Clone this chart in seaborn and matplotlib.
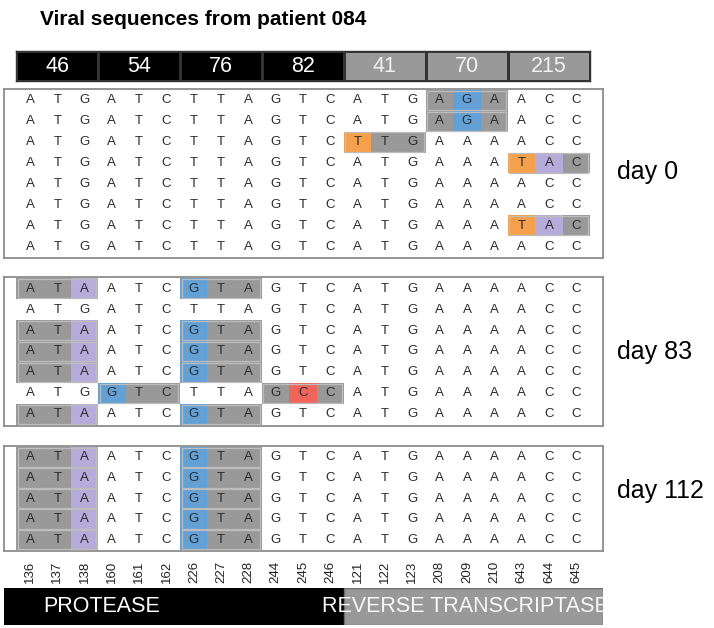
import numpy as np
import matplotlib
matplotlib.use("Agg")
import matplotlib.pyplot as plt
import seaborn as sns
from matplotlib.colors import ListedColormap
from matplotlib.patches import Rectangle

# ---------------- data ----------------
title = "Viral sequences from patient 084"
codon_numbers = [46, 54, 76, 82, 41, 70, 215]
codon_gene = [0, 0, 0, 0, 1, 1, 1]          # 0 = protease, 1 = reverse transcriptase
gene_names = ["PROTEASE", "REVERSE TRANSCRIPTASE"]
nt_positions = [136, 137, 138, 160, 161, 162, 226, 227, 228, 244, 245, 246,
                121, 122, 123, 208, 209, 210, 643, 644, 645]
reference = "ATGATCTTAGTCATGAAAACC"
day_labels = ["day 0", "day 83", "day 112"]
day0_seqs = [
    "ATGATCTTAGTCATGAGAACC",
    "ATGATCTTAGTCATGAGAACC",
    "ATGATCTTAGTCTTGAAAACC",
    "ATGATCTTAGTCATGAAATAC",
    "ATGATCTTAGTCATGAAAACC",
    "ATGATCTTAGTCATGAAAACC",
    "ATGATCTTAGTCATGAAATAC",
    "ATGATCTTAGTCATGAAAACC",
]
day83_seqs = [
    "ATAATCGTAGTCATGAAAACC",
    "ATGATCTTAGTCATGAAAACC",
    "ATAATCGTAGTCATGAAAACC",
    "ATAATCGTAGTCATGAAAACC",
    "ATAATCGTAGTCATGAAAACC",
    "ATGGTCTTAGCCATGAAAACC",
    "ATAATCGTAGTCATGAAAACC",
]
day112_seqs = [
    "ATAATCGTAGTCATGAAAACC",
    "ATAATCGTAGTCATGAAAACC",
    "ATAATCGTAGTCATGAAAACC",
    "ATAATCGTAGTCATGAAAACC",
    "ATAATCGTAGTCATGAAAACC",
]

# ---------------- style ----------------
sns.set_theme(style="white")
plt.rcParams["font.family"] = ["Liberation Sans", "DejaVu Sans"]

WHITE, GRAY = "#ffffff", "#999999"
nt_colors = {"T": "#F5A04C", "G": "#62A0D6", "A": "#B5ACDA", "C": "#F0655A"}
nt_code = {"T": 2, "G": 3, "A": 4, "C": 5}
cell_cmap = ListedColormap([WHITE, GRAY, nt_colors["T"], nt_colors["G"],
                            nt_colors["A"], nt_colors["C"]])


def encode(seqs):
    n, L = len(seqs), len(reference)
    codes = np.zeros((n, L), dtype=int)
    mutated = []
    for r, s in enumerate(seqs):
        for c in range(L // 3):
            sl = slice(3 * c, 3 * c + 3)
            if s[sl] != reference[sl]:
                codes[r, sl] = 1
                mutated.append((r, c))
                for k in range(3 * c, 3 * c + 3):
                    if s[k] != reference[k]:
                        codes[r, k] = nt_code[s[k]]
    letters = np.array([list(s) for s in seqs])
    return codes, letters, mutated


W, H = 714, 628
fig = plt.figure(figsize=(W / 100, H / 100), dpi=100)


def px_axes(x0, y0, x1, y1):
    return fig.add_axes([x0 / W, 1 - y1 / H, (x1 - x0) / W, (y1 - y0) / H])


NCOL = len(reference)
XL = (-0.45, NCOL + 0.48)

# title
fig.text(203 / W, 1 - 25 / H, title, ha="center", va="baseline",
         fontsize=15, fontweight="bold", color="black")

# header with codon numbers
axh = px_axes(16.35, 51, 589.65, 81)
sns.heatmap(np.array([codon_gene]), ax=axh, cmap=ListedColormap(["black", GRAY]),
            vmin=-0.5, vmax=1.5, cbar=False, annot=np.array([codon_numbers]), fmt="d",
            annot_kws={"fontsize": 15.5, "color": "white"},
            linewidths=0.9, linecolor="#333333", xticklabels=False, yticklabels=False)
for t, g in zip(axh.texts, codon_gene):
    t.set_color("white" if g == 0 else "#f2f2f2")
for s in axh.spines.values():
    s.set_visible(True)
    s.set_color("#333333")
    s.set_linewidth(1)

panels = [(day0_seqs, 89, 258, 179), (day83_seqs, 277, 426, 359),
          (day112_seqs, 446, 551, 498)]
for i, (seqs, top, bot, base) in enumerate(panels):
    ax = px_axes(4, top, 603, bot)
    codes, letters, mutated = encode(seqs)
    last = i == len(panels) - 1
    sns.heatmap(codes, ax=ax, cmap=cell_cmap, vmin=-0.5, vmax=5.5, cbar=False,
                annot=letters, fmt="", annot_kws={"fontsize": 9.5, "color": "#2a2a2a"},
                linewidths=0, xticklabels=nt_positions if last else False,
                yticklabels=False)
    for r, c in mutated:
        ax.add_patch(Rectangle((3 * c + 0.05, r + 0.03), 2.88, 0.94, fill=False,
                               ec="#bdbdbd", lw=0.9, zorder=3))
    n = len(seqs)
    ax.set_xlim(*XL)
    ax.set_ylim(n + 0.05, -0.05)
    for s in ax.spines.values():
        s.set_visible(True)
        s.set_color("#8c8c8c")
        s.set_linewidth(1.3)
    if last:
        ax.tick_params(axis="x", length=0, pad=7, labelsize=9.5, labelcolor="#222222",
                       labelrotation=90)
    fig.text(617 / W, 1 - base / H, day_labels[i], ha="left", va="baseline",
             fontsize=18, color="black")

# gene bar at the bottom
axb = px_axes(4, 588, 603, 625)
n_prot = 3 * sum(1 for g in codon_gene if g == 0)
axb.barh([0.5], [n_prot - XL[0]], left=XL[0], height=1, color="black", lw=0)
axb.barh([0.5], [XL[1] - n_prot], left=n_prot, height=1, color=GRAY,
         edgecolor="#6e6e6e", lw=1)
axb.set_xlim(*XL)
axb.set_ylim(0, 1)
axb.axis("off")
axb.text(1.0, 0.35, gene_names[0], color="white", fontsize=15.5, ha="left",
         va="baseline")
axb.text(n_prot - 0.82, 0.35, gene_names[1], color="#f7f7f7", fontsize=15.5,
         ha="left", va="baseline", clip_on=True)

fig.savefig("out.png", dpi=100)
